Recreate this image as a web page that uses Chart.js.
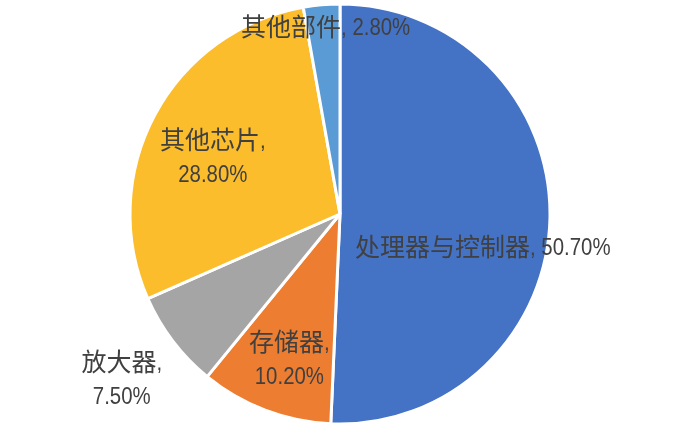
<!DOCTYPE html>
<html>
<head>
<meta charset="utf-8">
<script src="https://cdn.jsdelivr.net/npm/chart.js@4.4.1/dist/chart.umd.min.js"></script>
<style>
  html, body { margin: 0; padding: 0; background: #fff; }
  #wrap { width: 686px; height: 428px; }
</style>
</head>
<body>
<div id="wrap"><canvas id="pieChart" width="686" height="428"></canvas></div>
<script>
// chart data
const categories = ["处理器与控制器", "存储器", "放大器", "其他芯片", "其他部件"];
const shares = [50.7, 10.2, 7.5, 28.8, 2.8];

const sliceColors = ["#4472C4", "#ED7D31", "#A5A5A5", "#FBBD2C", "#5B9BD5"];

// label placement: fraction of radius along the slice's mid angle, plus a small nudge
const labelRadius = [0.68, 0.73, 1.30, 0.665, 0.885];
const labelNudge = [[0, 29], [4, 1], [-1, -1], [-4, 8], [2, -2]];
const labelTwoLines = [false, true, true, true, false];

const cjkFont = "25px 'Noto Sans CJK SC'";
const latinFont = "24px 'Liberation Sans'";
const latinSquash = 0.85;   // narrow look of the original latin face
const lineGap = 34;

// split text into CJK / latin runs so each gets its own font
function splitRuns(text) {
  const runs = [];
  for (const ch of text) {
    const cjk = /[\u3000-\u9fff]/.test(ch);
    const last = runs[runs.length - 1];
    if (last && last.cjk === cjk) last.text += ch;
    else runs.push({ text: ch, cjk: cjk });
  }
  return runs;
}

function drawMixed(ctx, text, cx, cy) {
  const runs = splitRuns(text);
  let total = 0;
  runs.forEach(r => {
    ctx.font = r.cjk ? cjkFont : latinFont;
    r.w = ctx.measureText(r.text).width * (r.cjk ? 1 : latinSquash);
    total += r.w;
  });
  let x = cx - total / 2;
  runs.forEach(r => {
    ctx.font = r.cjk ? cjkFont : latinFont;
    if (r.cjk) {
      ctx.fillText(r.text, x, cy);
    } else {
      ctx.save();
      ctx.translate(x, cy + 2);
      ctx.scale(latinSquash, 1);
      ctx.fillText(r.text, 0, 0);
      ctx.restore();
    }
    x += r.w;
  });
}

const sliceLabels = {
  id: "sliceLabels",
  afterDatasetsDraw(chart) {
    const ctx = chart.ctx;
    const meta = chart.getDatasetMeta(0);
    ctx.save();
    ctx.fillStyle = "#404040";
    ctx.textAlign = "left";
    ctx.textBaseline = "middle";
    meta.data.forEach((arc, i) => {
      const p = arc.getProps(["x", "y", "startAngle", "endAngle", "outerRadius"], true);
      const mid = (p.startAngle + p.endAngle) / 2;
      const r = p.outerRadius * labelRadius[i];
      const x = p.x + Math.cos(mid) * r + labelNudge[i][0];
      const y = p.y + Math.sin(mid) * r + labelNudge[i][1];
      const pct = shares[i].toFixed(2) + "%";
      if (labelTwoLines[i]) {
        drawMixed(ctx, categories[i] + ",", x, y - lineGap / 2);
        drawMixed(ctx, pct, x, y + lineGap / 2);
      } else {
        drawMixed(ctx, categories[i] + ", " + pct, x, y);
      }
    });
    ctx.restore();
  }
};

new Chart(document.getElementById("pieChart").getContext("2d"), {
  type: "pie",
  data: {
    labels: categories,
    datasets: [{
      data: shares,
      backgroundColor: sliceColors,
      borderColor: "#ffffff",
      borderWidth: 3
    }]
  },
  options: {
    responsive: false,
    animation: false,
    devicePixelRatio: 1,
    radius: 210,
    layout: { padding: { left: 0, right: 6, top: 0, bottom: 0 } },
    plugins: {
      legend: { display: false },
      tooltip: { enabled: false }
    }
  },
  plugins: [sliceLabels]
});
</script>
</body>
</html>
